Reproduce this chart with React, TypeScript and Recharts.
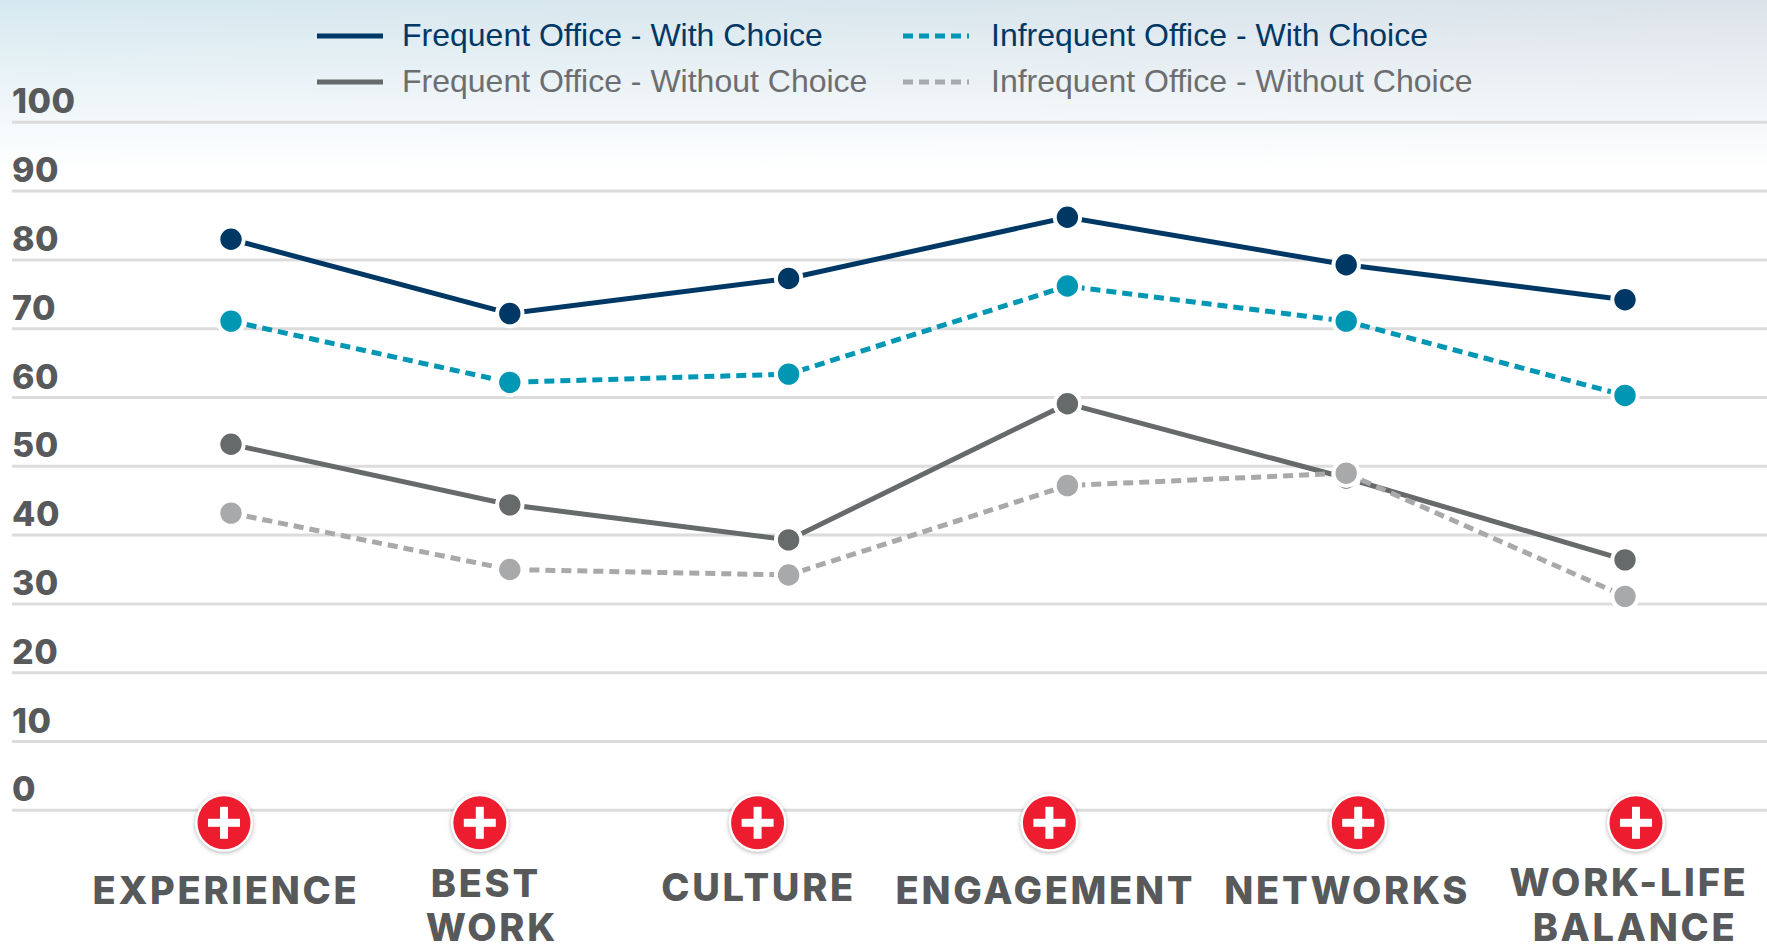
import { LineChart, Line, XAxis, YAxis, CartesianGrid, Legend } from "recharts";

const categories = ["EXPERIENCE", "BEST WORK", "CULTURE", "ENGAGEMENT", "NETWORKS", "WORK-LIFE BALANCE"];
const frequentWith = [83, 72.2, 77.3, 86.2, 79.3, 74.2];
const infrequentWith = [71.1, 62.2, 63.4, 76.2, 71.1, 60.3];
const frequentWithout = [53.2, 44.4, 39.3, 59.1, 48.3, 36.4];
const infrequentWithout = [43.2, 35, 34.2, 47.2, 49, 31.1];
const yTicks = [0, 10, 20, 30, 40, 50, 60, 70, 80, 90, 100];

const data = categories.map((name, i) => ({
  name,
  frequentWith: frequentWith[i],
  infrequentWith: infrequentWith[i],
  frequentWithout: frequentWithout[i],
  infrequentWithout: infrequentWithout[i],
}));

const NAVY = "#003865";
const TEAL = "#0097b5";
const DARK_GRAY = "#666a6b";
const LIGHT_GRAY = "#a8a9aa";
const LABEL_GRAY = "#58595b";
const HEADING_FONT = "Inter, sans-serif";

const series = [
  { key: "frequentWith", name: "Frequent Office - With Choice", color: NAVY, text: NAVY, dash: undefined },
  { key: "infrequentWith", name: "Infrequent Office - With Choice", color: TEAL, text: NAVY, dash: "10 6" },
  { key: "frequentWithout", name: "Frequent Office - Without Choice", color: DARK_GRAY, text: "#6d6e70", dash: undefined },
  { key: "infrequentWithout", name: "Infrequent Office - Without Choice", color: LIGHT_GRAY, text: "#6d6e70", dash: "10 6" },
];

// where each red badge and label sits relative to its data point
const tickLayout: Record<string, { badge: number; lines: { text: string; dx: number; dy: number }[] }> = {
  EXPERIENCE: { badge: -7, lines: [{ text: "EXPERIENCE", dx: -5, dy: 94 }] },
  "BEST WORK": {
    badge: -30,
    lines: [
      { text: "BEST", dx: -24, dy: 87 },
      { text: "WORK", dx: -18, dy: 131 },
    ],
  },
  CULTURE: { badge: -31, lines: [{ text: "CULTURE", dx: -30, dy: 91 }] },
  ENGAGEMENT: { badge: -18, lines: [{ text: "ENGAGEMENT", dx: -22, dy: 94 }] },
  NETWORKS: { badge: 12, lines: [{ text: "NETWORKS", dx: 1, dy: 94 }] },
  "WORK-LIFE BALANCE": {
    badge: 11,
    lines: [
      { text: "WORK-LIFE", dx: 4, dy: 86 },
      { text: "BALANCE", dx: 10, dy: 131 },
    ],
  },
};

function CategoryTick({ x, y, payload }: any) {
  const layout = tickLayout[payload.value];
  const cx = x + layout.badge;
  const cy = y + 12.5;
  return (
    <g>
      <circle cx={cx} cy={cy} r={29} fill="#fff" style={{ filter: "drop-shadow(0 1px 2px rgba(0,0,0,0.3))" }} />
      <circle cx={cx} cy={cy} r={26.5} fill="#ed1c2e" />
      <rect x={cx - 16} y={cy - 4} width={32} height={8} fill="#fff" />
      <rect x={cx - 4} y={cy - 16} width={8} height={32} fill="#fff" />
      {layout.lines.map((line) => (
        <text
          key={line.text}
          x={x + line.dx}
          y={y + line.dy}
          textAnchor="middle"
          fontFamily={HEADING_FONT}
          fontWeight={800}
          fontSize={38}
          letterSpacing={2.7}
          fill={LABEL_GRAY}
        >
          {line.text}
        </text>
      ))}
    </g>
  );
}

function ValueTick({ x, y, payload }: any) {
  return (
    <text
      x={x}
      y={y - 9}
      textAnchor="start"
      fontFamily={HEADING_FONT}
      fontWeight={800}
      fontSize={34}
      letterSpacing={0.5}
      fill={LABEL_GRAY}
    >
      {payload.value}
    </text>
  );
}

function LegendSwatch({ color, dash }: { color: string; dash?: string }) {
  return (
    <svg width={66} height={6} style={{ display: "block", flex: "none" }}>
      <line x1={0} y1={3} x2={66} y2={3} stroke={color} strokeWidth={5} strokeDasharray={dash} />
    </svg>
  );
}

function ChartLegend() {
  return (
    <div
      style={{
        display: "grid",
        gridTemplateColumns: "586px 600px",
        rowGap: 5,
        fontFamily: "'Liberation Sans', Arial, sans-serif",
        fontSize: 32,
        lineHeight: "41px",
      }}
    >
      {series.map((s, i) => (
        <div
          key={s.key}
          style={{ display: "flex", alignItems: "center", gap: i % 2 ? 22 : 19, color: s.text, whiteSpace: "nowrap" }}
        >
          <LegendSwatch color={s.color} dash={s.dash} />
          <span>{s.name}</span>
        </div>
      ))}
    </div>
  );
}

export default function App() {
  return (
    <div
      style={{
        position: "absolute",
        left: 0,
        top: 0,
        width: 1767,
        height: 947,
        background:
          "linear-gradient(to bottom, rgba(255,255,255,0) 0px, #ffffff 170px), linear-gradient(to right, #d6e9f0, #dbe3ea)",
      }}
    >
      <LineChart width={1767} height={947} data={data} margin={{ top: 122.3, right: 0, bottom: 0, left: 11 }}>
        <CartesianGrid vertical={false} stroke="#dcdcdc" strokeWidth={3} />
        <XAxis
          dataKey="name"
          scale="point"
          padding={{ left: 219, right: 142 }}
          height={136.7}
          interval={0}
          axisLine={false}
          tickLine={false}
          tickSize={0}
          tickMargin={0}
          tick={<CategoryTick />}
        />
        <YAxis
          domain={[0, 100]}
          ticks={yTicks}
          width={1}
          interval={0}
          axisLine={false}
          tickLine={false}
          tickSize={0}
          tickMargin={0}
          tick={<ValueTick />}
        />
        <Legend
          verticalAlign="middle"
          content={<ChartLegend />}
          wrapperStyle={{ position: "absolute", left: 317, top: 15, width: "auto" }}
        />
        {series.map((s) => (
          <Line
            key={s.key}
            type="linear"
            dataKey={s.key}
            name={s.name}
            stroke={s.color}
            strokeWidth={5}
            strokeDasharray={s.dash}
            dot={{ r: 12.7, fill: s.color, stroke: "#fff", strokeWidth: 4, strokeDasharray: "none" }}
            isAnimationActive={false}
          />
        ))}
      </LineChart>
    </div>
  );
}
